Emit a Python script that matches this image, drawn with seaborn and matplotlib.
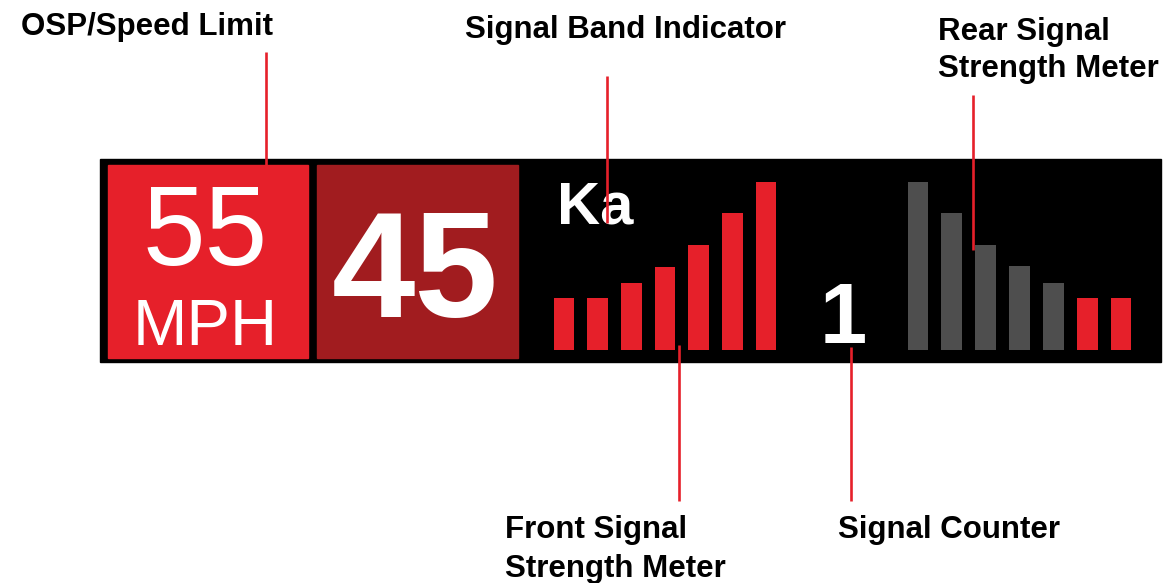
import matplotlib
matplotlib.use("Agg")
import matplotlib.pyplot as plt
import seaborn as sns
from matplotlib.patches import Rectangle

# signal meter levels (bar heights, px units of the display)
front_bars = ["f1", "f2", "f3", "f4", "f5", "f6", "f7"]
front_levels = [52, 52, 67, 83, 105, 137, 168]
rear_bars = ["r1", "r2", "r3", "r4", "r5", "r6", "r7"]
rear_levels = [168, 137, 105, 84, 67, 52, 52]
rear_lit = [False, False, False, False, False, True, True]

speed_limit = "55"
speed_unit = "MPH"
current_speed = "45"
band = "Ka"
counter = "1"

RED = "#e6202a"
DARK_RED = "#a11c1f"
GREY = "#4e4e4e"
W, H = 1173, 583

sns.set_style("white")
plt.rcParams["font.family"] = ["Liberation Sans", "DejaVu Sans"]

fig = plt.figure(figsize=(W / 100, H / 100), dpi=100)

# main canvas in pixel coordinates
ax = fig.add_axes([0, 0, 1, 1])
ax.set_xlim(0, W)
ax.set_ylim(H, 0)
ax.set_axis_off()

# display panel
ax.add_patch(Rectangle((100, 159), 1061, 203, color="black", zorder=1))
ax.add_patch(Rectangle((108, 165), 200, 193, color=RED, zorder=2))
ax.add_patch(Rectangle((317, 165), 201, 193, color=DARK_RED, zorder=2))

ax.text(205, 265, speed_limit, color="white", fontsize=81, ha="center", va="baseline", zorder=4)
ax.text(205, 345, speed_unit, color="white", fontsize=47, ha="center", va="baseline", zorder=4)
ax.text(415, 317, current_speed, color="white", fontsize=108, fontweight="bold",
        ha="center", va="baseline", zorder=4)
ax.text(557, 223, band, color="white", fontsize=43, fontweight="bold", ha="left", va="baseline", zorder=4)
ax.text(843, 343, counter, color="white", fontsize=61, fontweight="bold", ha="center", va="baseline", zorder=4)

# callout lines
callouts = [(266, 52, 185), (607, 76, 223), (973, 95, 250), (679, 345, 501), (851, 347, 501)]
for x, y0, y1 in callouts:
    ax.plot([x, x], [y0, y1], color=RED, lw=1.9, zorder=5, solid_capstyle="butt")

lab = dict(fontsize=22.5, fontweight="bold", color="black", ha="left", va="baseline")
ax.text(21, 35, "OSP/Speed Limit", **lab)
ax.text(465, 38, "Signal Band Indicator", **lab)
ax.text(938, 40, "Rear Signal", **lab)
ax.text(938, 77, "Strength Meter", **lab)
ax.text(505, 538, "Front Signal", **lab)
ax.text(505, 577, "Strength Meter", **lab)
ax.text(838, 538, "Signal Counter", **lab)


def px_axes(x0, x1, y0, y1):
    a = fig.add_axes([x0 / W, 1 - y1 / H, (x1 - x0) / W, (y1 - y0) / H])
    a.set_axis_off()
    a.patch.set_alpha(0)
    return a


# front signal strength meter
ax_f = px_axes(547, 783, 180, 350)
sns.barplot(x=front_bars, y=front_levels, color=RED, saturation=1, width=0.61,
            linewidth=0, edgecolor="none", ax=ax_f)
ax_f.set_xlim(-0.5, 6.5)
ax_f.set_ylim(0, 170)
ax_f.set_axis_off()

# rear signal strength meter
ax_r = px_axes(901, 1138, 180, 350)
rear_pal = [RED if lit else GREY for lit in rear_lit]
sns.barplot(x=rear_bars, y=rear_levels, hue=rear_bars, palette=rear_pal, saturation=1,
            width=0.61, linewidth=0, edgecolor="none", legend=False, ax=ax_r)
ax_r.set_xlim(-0.5, 6.5)
ax_r.set_ylim(0, 170)
ax_r.set_axis_off()

fig.savefig("out.png", dpi=100, facecolor="white")
